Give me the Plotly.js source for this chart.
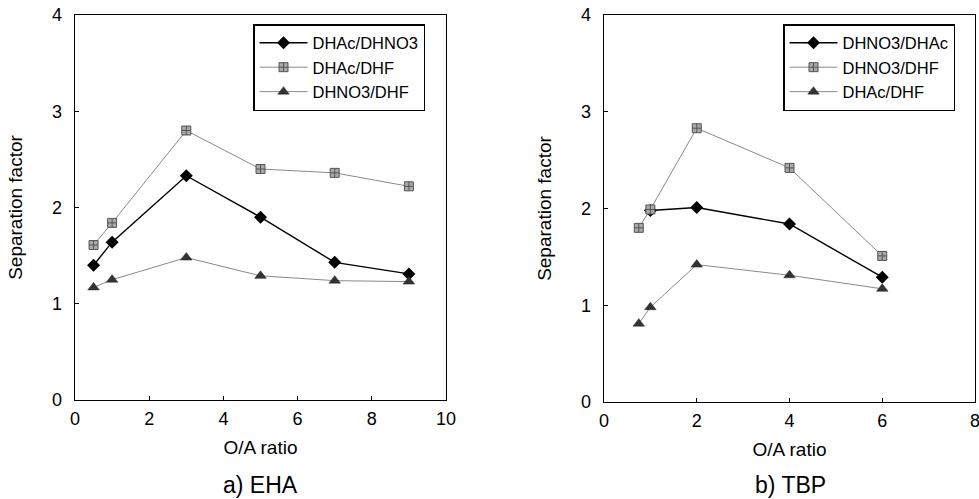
<!DOCTYPE html>
<html>
<head>
<meta charset="utf-8">
<script src="https://cdn.plot.ly/plotly-3.0.1.min.js"></script>
<style>html,body{margin:0;padding:0;background:#fff;}#chart{width:979px;height:499px;}</style>
</head>
<body>
<div id="chart"></div>
<script>
// Panel a) EHA
const ehaX = [0.5, 1, 3, 5, 7, 9];
const ehaAcNO3 = [1.40, 1.64, 2.33, 1.90, 1.43, 1.31];
const ehaAcHF = [1.61, 1.84, 2.80, 2.40, 2.36, 2.22];
const ehaNO3HF = [1.17, 1.25, 1.48, 1.29, 1.24, 1.23];
const ehaNames = ["DHAc/DHNO3", "DHAc/DHF", "DHNO3/DHF"];

// Panel b) TBP
const tbpX1 = [1, 2, 4, 6];
const tbpNO3Ac = [1.98, 2.01, 1.84, 1.29];
const tbpX = [0.75, 1, 2, 4, 6];
const tbpNO3HF = [1.80, 1.99, 2.83, 2.42, 1.51];
const tbpAcHF = [0.81, 0.98, 1.42, 1.31, 1.17];
const tbpNames = ["DHNO3/DHAc", "DHNO3/DHF", "DHAc/DHF"];

const panelCaptions = ["a) EHA", "b) TBP"];
const xTitle = "O/A ratio";
const yTitle = "Separation factor";

const FONT = "Liberation Sans, Arial, sans-serif";
const s1 = {line: {color: "#000", width: 1.4}, marker: {symbol: "diamond", size: 10, color: "#000"}};
const s2 = {line: {color: "#8a8a8a", width: 1}, marker: {symbol: "square-cross", size: 9, color: "#a8a8a8", line: {color: "#555", width: 1}}};
const s3 = {line: {color: "#8a8a8a", width: 1}, marker: {symbol: "triangle-up", size: 10, color: "#333", line: {color: "#222", width: 0.5}}};

function tr(x, y, name, st, xa, ya, leg) {
  return Object.assign({x: x, y: y, name: name, type: "scatter", mode: "lines+markers",
    xaxis: xa, yaxis: ya, legend: leg}, JSON.parse(JSON.stringify(st)));
}

const data = [
  tr(ehaX, ehaAcNO3, ehaNames[0], s1, "x", "y", "legend"),
  tr(ehaX, ehaAcHF, ehaNames[1], s2, "x", "y", "legend"),
  tr(ehaX, ehaNO3HF, ehaNames[2], s3, "x", "y", "legend"),
  tr(tbpX1, tbpNO3Ac, tbpNames[0], s1, "x2", "y2", "legend2"),
  tr(tbpX, tbpNO3HF, tbpNames[1], s2, "x2", "y2", "legend2"),
  tr(tbpX, tbpAcHF, tbpNames[2], s3, "x2", "y2", "legend2")
];

const W = 979, H = 499;
function axBase() {
  return {showline: true, mirror: true, linecolor: "#000", linewidth: 1.3, ticks: "inside",
    ticklen: 4, tickcolor: "#000", showgrid: false, zeroline: false, ticklabeloverflow: "allow",
    tickfont: {family: FONT, size: 18, color: "#000"}, fixedrange: true};
}
const titleFont = {family: FONT, size: 19, color: "#000"};
const legFont = {family: FONT, size: 16.5, color: "#000"};

const layout = {
  width: W, height: H,
  margin: {l: 0, r: 0, t: 0, b: 0},
  paper_bgcolor: "#fff", plot_bgcolor: "#fff",
  font: {family: FONT, color: "#000"},
  xaxis: Object.assign(axBase(), {domain: [75/W, 446/W], range: [0, 10], dtick: 2, tick0: 0, anchor: "y",
    ticklabelstandoff: 2,
    title: {text: xTitle, font: titleFont, standoff: 12}}),
  yaxis: Object.assign(axBase(), {domain: [1-400/H, 1-15/H], range: [0, 4], dtick: 1, anchor: "x",
    ticklabelstandoff: 8,
    title: {text: yTitle, font: titleFont, standoff: 24}}),
  xaxis2: Object.assign(axBase(), {domain: [604/W, 975/W], range: [0, 8], dtick: 2, tick0: 0, anchor: "y2",
    ticklabelstandoff: 2,
    title: {text: xTitle, font: titleFont, standoff: 12}}),
  yaxis2: Object.assign(axBase(), {domain: [1-402/H, 1-15/H], range: [0, 4], dtick: 1, anchor: "x2",
    ticklabelstandoff: 8,
    title: {text: yTitle, font: titleFont, standoff: 24}}),
  legend: {x: 253/W, y: 1-24/H, xanchor: "left", yanchor: "top", bgcolor: "#fff",
    bordercolor: "#000", borderwidth: 1.5, font: legFont, itemwidth: 48,
    entrywidth: 186, entrywidthmode: "pixels",
    tracegroupgap: 0, itemclick: false},
  legend2: {x: 783/W, y: 1-24/H, xanchor: "left", yanchor: "top", bgcolor: "#fff",
    bordercolor: "#000", borderwidth: 1.5, font: legFont, itemwidth: 48,
    entrywidth: 183, entrywidthmode: "pixels",
    tracegroupgap: 0, itemclick: false},
  showlegend: true,
  annotations: [
    {text: panelCaptions[0], xref: "paper", yref: "paper", x: 260/W, y: 1-485/H, xanchor: "center", yanchor: "middle",
      showarrow: false, font: {family: FONT, size: 23, color: "#000"}},
    {text: panelCaptions[1], xref: "paper", yref: "paper", x: 790/W, y: 1-485/H, xanchor: "center", yanchor: "middle",
      showarrow: false, font: {family: FONT, size: 23, color: "#000"}}
  ]
};

Plotly.newPlot("chart", data, layout, {displayModeBar: false, staticPlot: true});
</script>
</body>
</html>
